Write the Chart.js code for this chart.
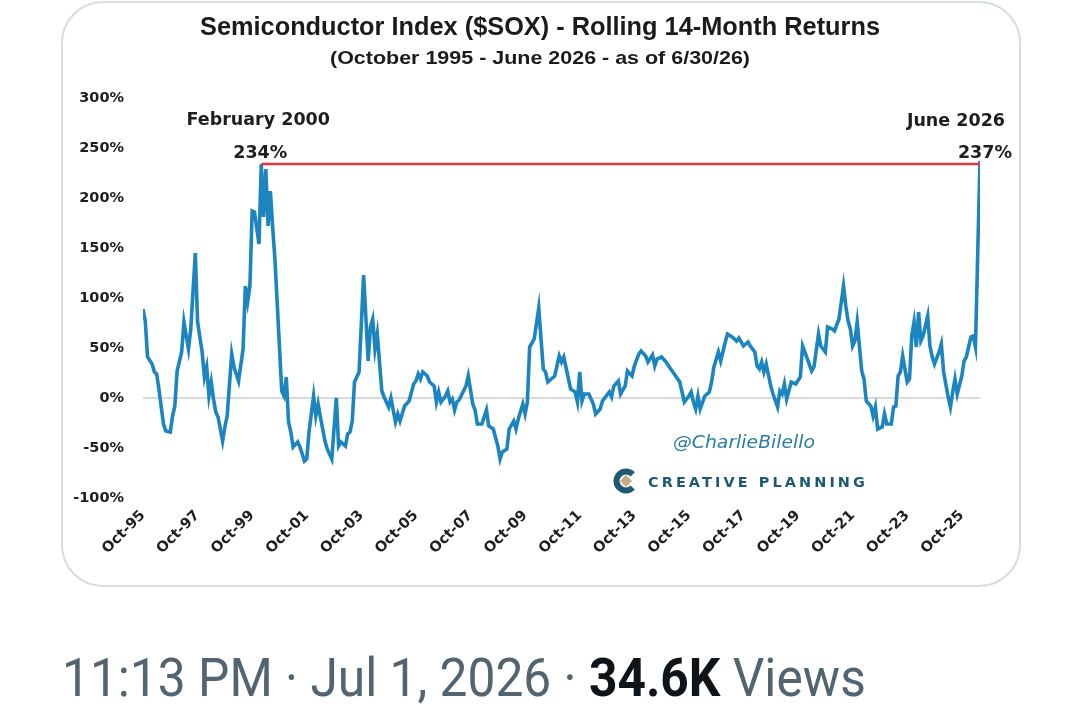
<!DOCTYPE html>
<html>
<head>
<meta charset="utf-8">
<script src="https://cdn.jsdelivr.net/npm/chart.js@4.4.1/dist/chart.umd.min.js"></script>
<style>
  html, body { margin: 0; padding: 0; background: #fff; width: 1080px; height: 717px; overflow: hidden; }
  .card { position: absolute; left: 61px; top: 1px; width: 956px; height: 582px; border: 2px solid #d6dce0; border-radius: 42px; }
  .wrap { position: absolute; left: 0; top: 0; width: 1080px; height: 600px; }
  .footer { position: absolute; left: 62px; top: 651px; font-family: Roboto, sans-serif; font-size: 54px; line-height: 54px;
            color: #536471; white-space: nowrap; transform: scaleX(0.92); transform-origin: left top; }
  .footer b { color: #0f1419; font-weight: 700; }
</style>
</head>
<body>
<div class="card"></div>
<div class="wrap"><canvas id="soxChart"></canvas></div>
<div class="footer">11:13 PM · Jul 1, 2026 · <b>34.6K</b> Views</div>
<script>
// months since Oct-1995, rolling 14-month return (%)
var months = [0, 1, 2, 4, 5, 6, 7, 9, 10, 12, 13, 14, 15, 17, 18, 20, 21, 23, 24, 26, 27, 28, 29, 30, 31, 32, 33, 35, 36, 37,
  39, 40, 42, 44, 45, 46, 47, 48, 49, 51, 52, 53, 54, 55, 56, 57, 58, 61, 62, 63, 64, 65, 66, 68, 69, 71, 72, 73, 75, 76,
  77, 78, 80, 81, 83, 85, 86, 87, 89, 90, 91, 92, 93, 95, 97, 99, 100, 101, 102, 103, 105, 106, 108, 109, 111, 112, 113, 115, 117, 119,
  120, 121, 122, 123, 125, 126, 128, 129, 130, 131, 133, 134, 135, 136, 137, 138, 139, 142, 143, 145, 146, 147, 149, 151, 152, 154, 156, 157, 158, 160,
  161, 163, 164, 165, 167, 168, 169, 170, 172, 174, 175, 176, 177, 178, 180, 181, 183, 184, 185, 188, 190, 191, 192, 193, 194, 196, 198, 199, 201, 202,
  205, 206, 207, 209, 210, 212, 213, 215, 216, 218, 219, 221, 222, 224, 225, 226, 228, 230, 232, 233, 236, 238, 240, 241, 242, 243, 244, 245, 247, 249,
  250, 251, 253, 254, 256, 257, 259, 261, 262, 264, 266, 267, 269, 270, 271, 272, 273, 274, 276, 277, 279, 280, 281, 282, 283, 285, 287, 289, 290, 291,
  294, 295, 297, 298, 300, 301, 303, 304, 306, 308, 309, 310, 311, 312, 313, 314, 316, 317, 318, 320, 321, 322, 323, 325, 326, 327, 329, 330, 331, 332,
  333, 334, 336, 337, 338, 339, 340, 341, 342, 343, 345, 346, 347, 348, 350, 351, 352, 354, 355, 356, 357, 358, 360, 361, 362, 364, 365, 366, 367, 368];
var returns = [89, 77, 41, 34, 26, 24, 9, -26, -33, -34, -18, -8, 27, 46, 76, 49, 69, 145, 76, 46, 21, 31, 2, 16, -1, -14, -19, -43, -29, -18,
  44, 31, 17, 49, 112, 96, 112, 187, 186, 154, 234, 181, 229, 172, 207, 171, 139, 7, 2, 21, -24, -34, -49, -44, -49, -63, -61, -34, 2, -18,
  -6, -19, -43, -51, -61, 0, -48, -44, -48, -36, -34, -23, 16, 26, 123, 37, 71, 79, 49, 64, 7, 1, -9, 0, -24, -16, -23, -8, -3, 14,
  17, 24, 19, 26, 22, 16, 12, -4, 6, -4, 2, 7, -4, -1, -12, -4, -2, 12, 22, -6, -12, -26, -26, -12, -28, -31, -48, -61, -54, -51,
  -31, -23, -31, -21, -6, -16, -4, 51, 59, 90, 59, 29, 26, 16, 20, 22, 42, 36, 41, 9, 6, -4, 26, -3, 4, 4, -6, -16, -11, -3,
  6, 1, 12, 17, 4, 12, 27, 22, 32, 44, 47, 42, 36, 43, 32, 39, 41, 36, 29, 26, 16, -4, 2, 6, -4, -11, 2, -11, 2, 6,
  16, 31, 46, 37, 56, 64, 61, 57, 60, 52, 56, 52, 46, 32, 29, 36, 26, 34, 12, 4, -9, 7, 4, 14, -1, 16, 14, 21, 52, 46,
  27, 31, 64, 52, 46, 71, 69, 67, 79, 112, 92, 77, 69, 52, 57, 76, 27, 19, -3, -8, -18, -9, -31, -29, -16, -26, -26, -9, -8, 22,
  26, 42, 16, 19, 62, 76, 51, 86, 57, 62, 82, 52, 41, 34, 46, 54, 26, 1, -9, 6, 19, 4, 22, 37, 41, 61, 62, 51, 145, 237];

var tickMonths = [0, 24, 48, 72, 96, 120, 144, 168, 192, 216, 240, 264, 288, 312, 336, 360];
var tickLabels = ['Oct-95', 'Oct-97', 'Oct-99', 'Oct-01', 'Oct-03', 'Oct-05', 'Oct-07', 'Oct-09',
  'Oct-11', 'Oct-13', 'Oct-15', 'Oct-17', 'Oct-19', 'Oct-21', 'Oct-23', 'Oct-25'];

var peakMonths = [52, 368];
var peakValues = [234, 237];
var peakNames = ['February 2000', 'June 2026'];

var BLUE = '#1c85c0';
var RED = '#e2363f';
var INK = '#1e1e1e';
var TICK_FONT = { family: "'DejaVu Sans', sans-serif", size: 14.5, weight: 'bold' };

function fitText(ctx, text, x, y, width, align) {
  var w = ctx.measureText(text).width;
  ctx.save();
  ctx.translate(x, y);
  ctx.scale(width / w, 1);
  ctx.textAlign = align;
  ctx.fillText(text, 0, 0);
  ctx.restore();
}

var decorations = {
  id: 'decorations',
  afterDraw: function (chart) {
    var ctx = chart.ctx;
    var xs = chart.scales.x;
    var ys = chart.scales.y;
    ctx.save();
    ctx.fillStyle = '#1b1b1b';
    ctx.textBaseline = 'alphabetic';

    ctx.font = "bold 26px 'Liberation Sans', sans-serif";
    fitText(ctx, 'Semiconductor Index ($SOX) - Rolling 14-Month Returns', 540, 35, 680, 'center');
    ctx.font = "bold 18.5px 'Liberation Sans', sans-serif";
    fitText(ctx, '(October 1995 - June 2026 - as of 6/30/26)', 540, 64, 420, 'center');

    // peak labels
    ctx.fillStyle = INK;
    ctx.font = "bold 17.5px 'DejaVu Sans', sans-serif";
    var px0 = xs.getPixelForValue(peakMonths[0]);
    var py0 = ys.getPixelForValue(peakValues[0]);
    ctx.textAlign = 'center';
    ctx.fillText(peakNames[0], px0 - 3, py0 - 39);
    ctx.fillText(peakValues[0] + '%', px0 - 1, py0 - 6);

    var px1 = xs.getPixelForValue(peakMonths[1]);
    var py1 = ys.getPixelForValue(peakValues[1]);
    ctx.textAlign = 'right';
    ctx.fillText(peakNames[1], px1 + 25, py1 - 35);
    ctx.fillText(peakValues[1] + '%', px1 + 32, py1 - 3);

    // watermark
    ctx.textAlign = 'center';
    ctx.fillStyle = '#2b7ea3';
    ctx.font = "italic 17px 'DejaVu Sans', sans-serif";
    fitText(ctx, '@CharlieBilello', 744, 448, 142, 'center');

    // logo
    ctx.strokeStyle = '#1d5a72';
    ctx.lineWidth = 6;
    ctx.beginPath();
    ctx.arc(626, 481, 9.5, 0.25 * Math.PI, 1.75 * Math.PI);
    ctx.stroke();
    ctx.fillStyle = '#c4a982';
    ctx.beginPath();
    ctx.moveTo(626, 475); ctx.lineTo(632, 481); ctx.lineTo(626, 487); ctx.lineTo(620, 481);
    ctx.closePath();
    ctx.fill();

    ctx.fillStyle = '#1d5a72';
    ctx.font = "bold 14px 'DejaVu Sans', sans-serif";
    ctx.letterSpacing = '3px';
    fitText(ctx, 'CREATIVE PLANNING', 648, 487, 220, 'left');
    ctx.restore();
  }
};

new Chart(document.getElementById('soxChart'), {
  type: 'line',
  data: {
    datasets: [
      {
        label: 'Rolling 14-Month Return',
        data: months.map(function (m, i) { return { x: m, y: returns[i] }; }),
        borderColor: BLUE,
        borderWidth: 3.6,
        pointRadius: 0,
        tension: 0,
        order: 1,
      },
      {
        label: 'Previous peak',
        data: [{ x: peakMonths[0], y: peakValues[0] }, { x: peakMonths[1], y: peakValues[0] }],
        borderColor: RED,
        borderWidth: 2.5,
        pointRadius: 0,
        order: 0,
      },
    ],
  },
  options: {
    responsive: true,
    maintainAspectRatio: false,
    animation: false,
    layout: { padding: { top: 98, right: 100, bottom: 0, left: 0 } },
    plugins: { legend: { display: false }, tooltip: { enabled: false } },
    scales: {
      x: {
        type: 'linear',
        min: 0,
        max: 368,
        afterBuildTicks: function (scale) {
          scale.ticks = tickMonths.map(function (v) { return { value: v }; });
        },
        afterFit: function (scale) { scale.height = 102; },
        grid: { display: false, drawTicks: false },
        border: { display: false },
        ticks: {
          autoSkip: false,
          minRotation: 45,
          maxRotation: 45,
          padding: 9,
          color: INK,
          font: TICK_FONT,
          callback: function (value) { return tickLabels[tickMonths.indexOf(value)]; },
        },
      },
      y: {
        min: -100,
        max: 300,
        afterFit: function (scale) { scale.width = 143; },
        grid: {
          drawTicks: false,
          lineWidth: 2,
          color: function (ctx) { return ctx.tick && ctx.tick.value === 0 ? '#dadada' : 'rgba(0,0,0,0)'; },
        },
        border: { display: false },
        ticks: {
          stepSize: 50,
          padding: 19,
          color: INK,
          font: TICK_FONT,
          callback: function (value) { return value + '%'; },
        },
      },
    },
  },
  plugins: [decorations],
});
</script>
</body>
</html>
